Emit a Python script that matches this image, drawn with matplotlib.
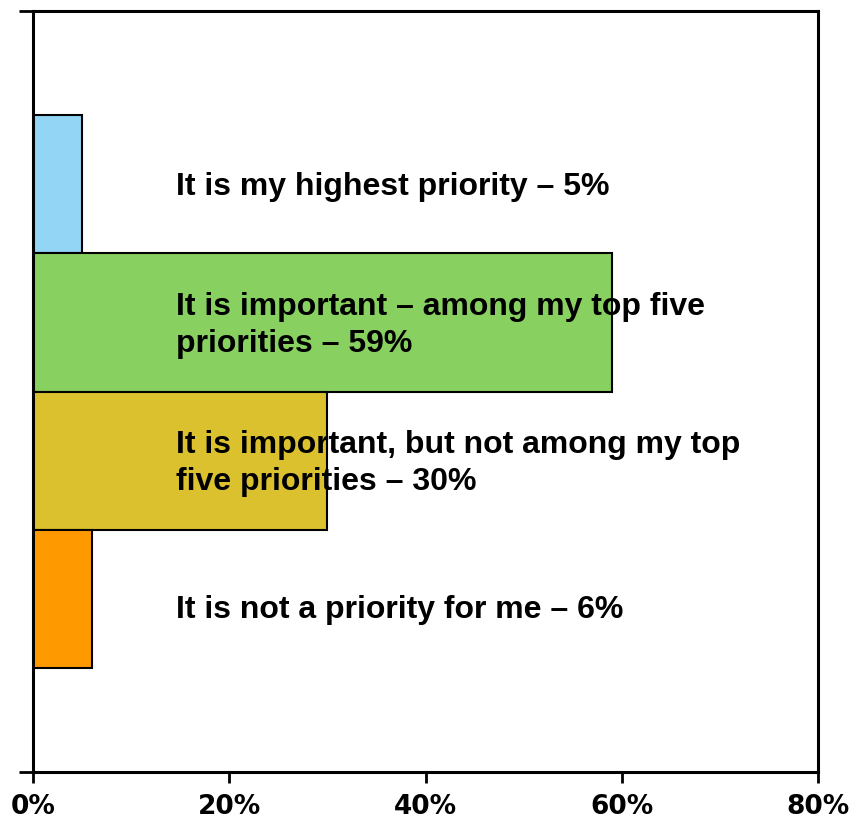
import numpy as np
import matplotlib.pyplot as plt

labels = ["It is my highest priority \u2013 5%",
          "It is important \u2013 among my top five\npriorities \u2013 59%",
          "It is important, but not among my top\nfive priorities \u2013 30%",
          "It is not a priority for me \u2013 6%"]
values = [5, 59, 30, 6]
colors = ["#93D5F5", "#88D160", "#DBC12E", "#FF9900"]
xticks = [0, 20, 40, 60, 80]

fig = plt.figure(figsize=(8.59, 8.25), dpi=100)
ax = fig.add_axes([33/859, 53/825, 785/859, 761/825])

y = np.arange(len(values))
ax.barh(y, values, height=1.0, color=colors, edgecolor="black", linewidth=1.5)
ax.set_ylim(3.5 + 0.755, -0.5 - 0.755)
ax.set_xlim(0, 80)

for i, lab in enumerate(labels):
    ax.text(14.6, y[i] + (0.08 if i == 3 else 0.02), lab, ha="left", va="center",
            fontsize=23, fontweight="bold", family="Liberation Sans",
            linespacing=1.3)

ax.set_xticks(xticks)
ax.set_xticklabels([f"{t}%" for t in xticks], fontsize=19, fontweight="bold",
                   family="DejaVu Sans")
ax.set_yticks(ax.get_ylim())
ax.set_yticklabels([])
ax.tick_params(axis="x", direction="out", length=8, width=2, pad=8)
ax.tick_params(axis="y", direction="out", length=10, width=2)
for s in ax.spines.values():
    s.set_linewidth(2.2)

fig.savefig("out.png", dpi=100)
